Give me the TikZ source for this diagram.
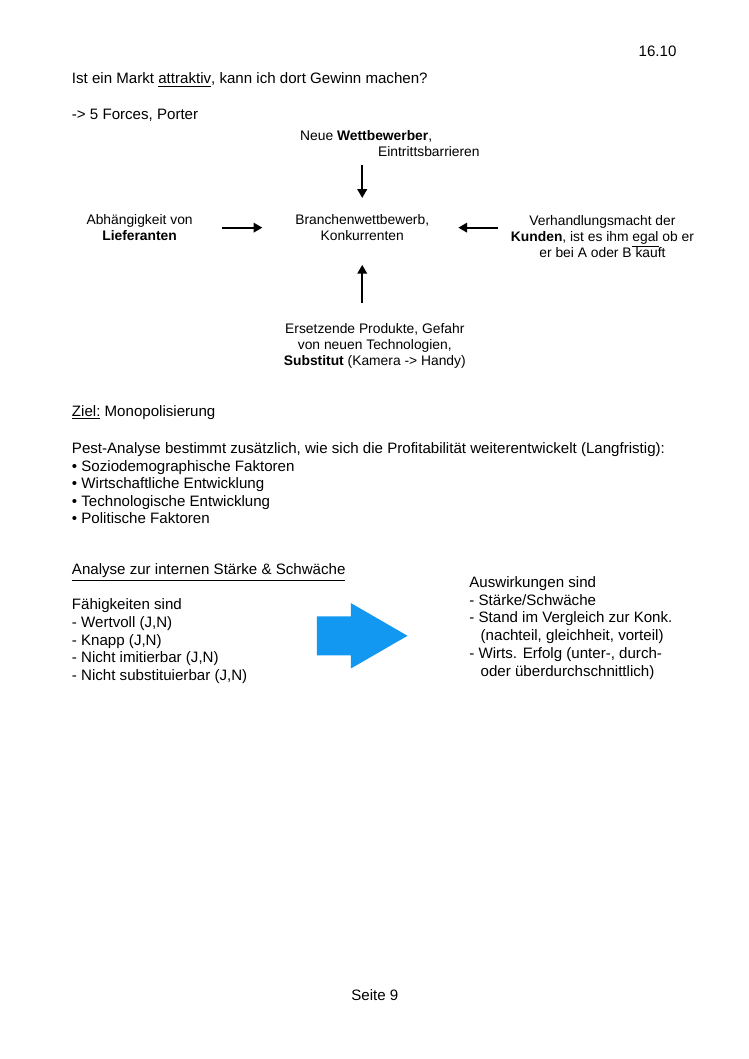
\documentclass[tikz,border=0pt]{standalone}
\usepackage{fontspec}
\setmainfont{Liberation Sans}
\usepackage{tikz}
\usetikzlibrary{arrows.meta, positioning}
\definecolor{arrowblue}{RGB}{18,152,240}

\begin{document}
\begin{tikzpicture}[x=1pt, y=-1pt,
				txt/.style={anchor=west, align=left, inner sep=0pt,
					font=\fontsize{12}{14}\selectfont},
				force/.style={align=center, inner sep=2pt,
					font=\fontsize{11}{12.7}\selectfont},
				lw/.style={line width=1.8pt, -{Triangle[length=7pt, width=7.5pt]}}]
				
				\useasboundingbox (0,0) rectangle (595,842);
				
				%% ── header ──
				\node[txt, anchor=east] (date) at (538,41) {16.10};
				\node[txt] (q) at (57,63.5) {Ist ein Markt \underline{attraktiv}, kann ich dort Gewinn machen?};
				\node[txt] (porter) at (57,92) {-> 5 Forces, Porter};
				
				%% ── five forces ──
				\node[force] (C) at (288,181) {Branchenwettbewerb,\\Konkurrenten};
				\node[force, align=left] (T) at (310,114.5)
				{Neue \textbf{Wettbewerber},\\\hspace*{62pt}Eintrittsbarrieren};
				\node[force] (L) at (111,181) {Abhängigkeit von\\\textbf{Lieferanten}};
				\node[force] (R) at (479,188)
				{Verhandlungsmacht der\\\textbf{Kunden}, ist es ihm \underline{egal} ob er\\er bei A oder B kauft};
				\node[force] (B) at (298,275)
				{Ersetzende Produkte, Gefahr\\von neuen Technologien,\\\textbf{Substitut} (Kamera -> Handy)};
				
				%% ── connectors ──
				\draw[lw, shorten <=4pt, shorten >=11pt] (T.south -| C) -- (C.north);
				\draw[lw, shorten <=21pt, shorten >=24pt] (L.east |- C) -- (C.west);
				\draw[lw, shorten <=8pt, shorten >=21pt] (R.west |- C) -- (C.east);
				\draw[lw, shorten <=14pt, shorten >=17pt] (B.north -| C) -- (C.south);
				
				%% ── goal and PEST ──
				\node[txt] (ziel) at (57,328) {\underline{Ziel:} Monopolisierung};
				\node[txt, anchor=north west, font=\fontsize{12}{13.9}\selectfont] (pest) at (57,352)
				{Pest-Analyse bestimmt zusätzlich, wie sich die Profitabilität weiterentwickelt (Langfristig):\\
					\textbullet\ Soziodemographische Faktoren\\
					\textbullet\ Wirtschaftliche Entwicklung\\
					\textbullet\ Technologische Entwicklung\\
					\textbullet\ Politische Faktoren};
				
				%% ── internal analysis ──
				\node[txt] (ana) at (57,455) {\underline{Analyse zur internen Stärke \& Schwäche}};
				\node[txt, anchor=north west] (faeh) at (57,476)
				{Fähigkeiten sind\\
					- Wertvoll (J,N)\\
					- Knapp (J,N)\\
					- Nicht imitierbar (J,N)\\
					- Nicht substituierbar (J,N)};
				\node[txt, anchor=north west, font=\fontsize{12}{14.2}\selectfont] (ausw) at (373,458)
				{Auswirkungen sind\\
					- Stärke/Schwäche\\
					- Stand im Vergleich zur Konk.\\
					\hspace*{9pt}(nachteil, gleichheit, vorteil)\\
					- Wirts. Erfolg (unter-, durch-\\
					\hspace*{9pt}oder überdurchschnittlich)};
				
				%% ── blue arrow ──
				\fill[arrowblue] (252,490) -- (279,490) -- (279,479.5) -- (324,505.5)
				-- (279,531.5) -- (279,521) -- (252,521) -- cycle;
				
				%% ── footer ──
				\node[txt, anchor=center] (page) at (298,791) {Seite 9};
				
\end{tikzpicture}
\end{document}
